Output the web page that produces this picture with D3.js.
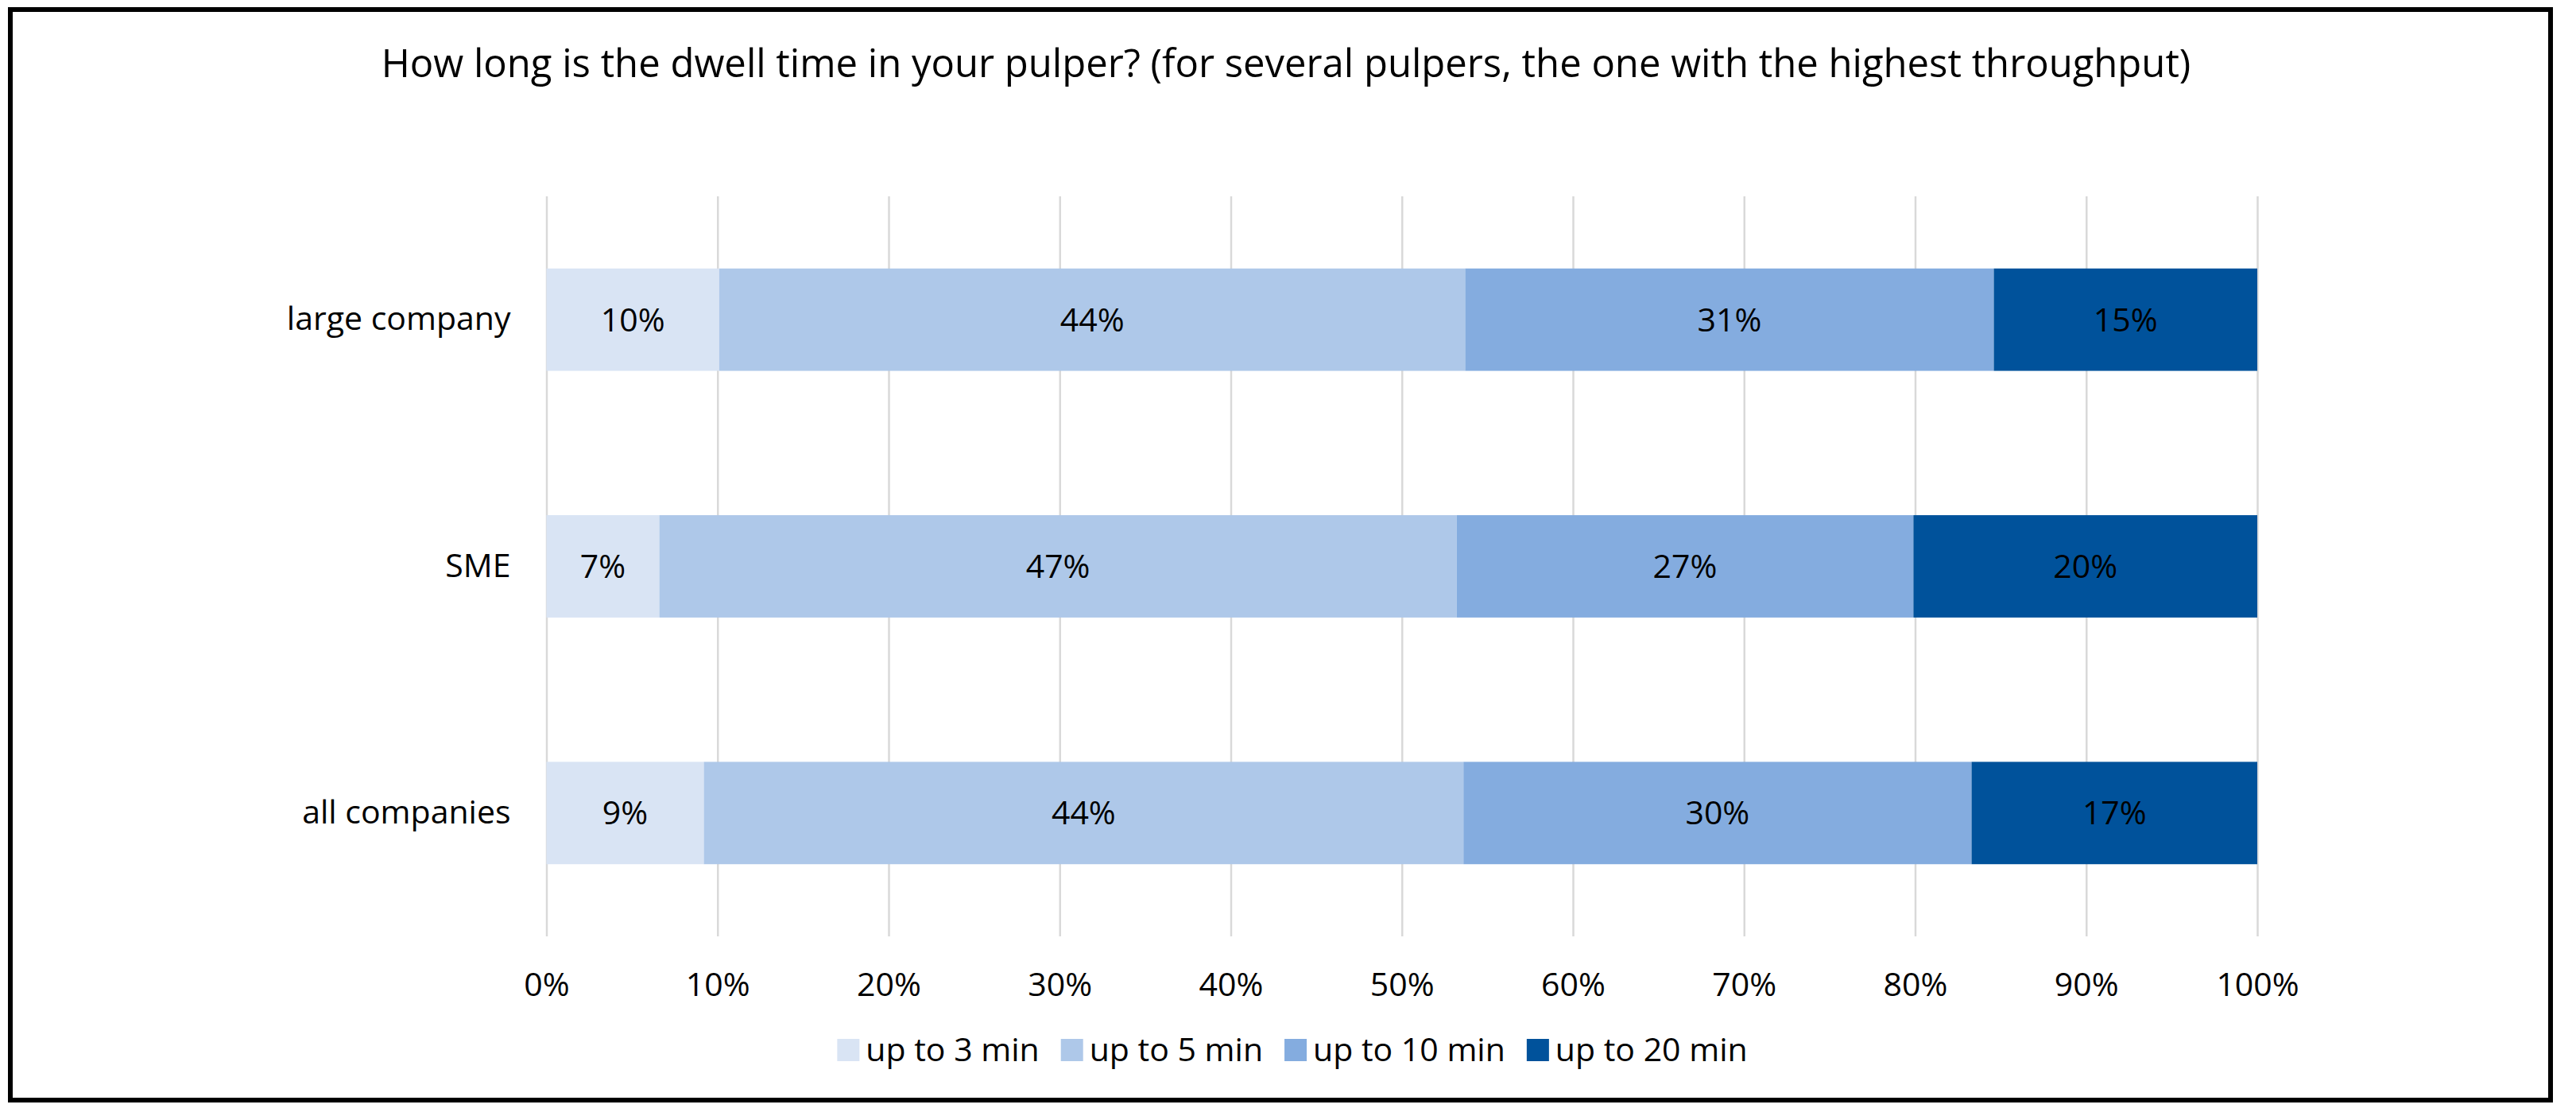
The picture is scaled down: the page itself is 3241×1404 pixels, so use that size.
<!DOCTYPE html>
<html>
<head>
<meta charset="utf-8">
<script src="https://cdn.jsdelivr.net/npm/d3@7"></script>
<style>
  body { margin: 0; background: #fff; }
  text { font-family: "Open Sans", sans-serif; fill: #000; }
</style>
</head>
<body>
<div id="chart"></div>
<script>
// chart values
var categories = ["large company", "SME", "all companies"];
var seriesNames = ["up to 3 min", "up to 5 min", "up to 10 min", "up to 20 min"];
var upTo3 = [10.1, 6.6, 9.2];
var upTo5 = [43.6, 46.6, 44.4];
var upTo10 = [30.9, 26.7, 29.7];
var upTo20 = [15.4, 20.1, 16.7];
var xTicks = [0, 10, 20, 30, 40, 50, 60, 70, 80, 90, 100];
var colors = ["#d9e4f4", "#aec8e9", "#84acdf", "#00529b"];

var svgWidth = 3241;
var svgHeight = 1404;
var labelSize = "41px";

var plot = { left: 687.5, right: 2840, top: 247, bottom: 1178 };

var svg = d3.select("#chart")
  .append("svg")
  .attr("width", svgWidth)
  .attr("height", svgHeight);

// outer frame
svg.append("rect")
  .attr("x", 13)
  .attr("y", 12)
  .attr("width", 3196)
  .attr("height", 1372)
  .attr("fill", "none")
  .attr("stroke", "#000")
  .attr("stroke-width", 6);

// title
svg.append("text")
  .attr("x", 1618)
  .attr("y", 97)
  .attr("text-anchor", "middle")
  .attr("font-size", "49px")
  .text("How long is the dwell time in your pulper? (for several pulpers, the one with the highest throughput)");

// build rows for the stack
var rows = categories.map(function(c, i) {
  return {
    category: c,
    "up to 3 min": upTo3[i],
    "up to 5 min": upTo5[i],
    "up to 10 min": upTo10[i],
    "up to 20 min": upTo20[i]
  };
});

var stacked = d3.stack().keys(seriesNames)(rows);

var xScale = d3.scaleLinear()
  .domain([0, 100])
  .range([plot.left, plot.right]);

var yScale = d3.scaleBand()
  .domain(categories)
  .range([plot.top, plot.bottom])
  .paddingInner(0.585)
  .paddingOuter(0.2925);

var colorScale = d3.scaleOrdinal()
  .domain(seriesNames)
  .range(colors);

// gridlines + x tick labels
var bottomAxis = d3.axisBottom(xScale)
  .tickValues(xTicks)
  .tickFormat(function(d) { return d + "%"; })
  .tickSize(-(plot.bottom - plot.top))
  .tickPadding(61);

var xAxisGroup = svg.append("g")
  .attr("transform", `translate(0, ${plot.bottom})`)
  .call(bottomAxis);

xAxisGroup.select(".domain").remove();
xAxisGroup.selectAll(".tick line")
  .attr("stroke", "#d9d9d9")
  .attr("stroke-width", 2.5);
xAxisGroup.selectAll(".tick text")
  .attr("dy", "0.35em")
  .attr("font-size", labelSize)
  .attr("font-family", "Open Sans, sans-serif")
  .attr("fill", "#000");

// category labels
var leftAxis = d3.axisLeft(yScale)
  .tickSize(0)
  .tickPadding(45);

var yAxisGroup = svg.append("g")
  .attr("transform", `translate(${plot.left}, 0)`)
  .call(leftAxis);

yAxisGroup.select(".domain").remove();
yAxisGroup.selectAll(".tick text")
  .attr("font-size", labelSize)
  .attr("font-family", "Open Sans, sans-serif")
  .attr("fill", "#000");

// bars
var layers = svg.selectAll(".layer")
  .data(stacked)
  .enter()
  .append("g")
  .attr("class", "layer")
  .attr("fill", d => colorScale(d.key));

layers.selectAll("rect")
  .data(d => d)
  .enter()
  .append("rect")
  .attr("x", d => xScale(d[0]))
  .attr("y", d => yScale(d.data.category))
  .attr("width", d => xScale(d[1]) - xScale(d[0]))
  .attr("height", yScale.bandwidth());

// value labels
layers.selectAll("text")
  .data(d => d)
  .enter()
  .append("text")
  .attr("x", d => xScale((d[0] + d[1]) / 2))
  .attr("y", d => yScale(d.data.category) + yScale.bandwidth() / 2)
  .attr("dy", "0.35em")
  .attr("text-anchor", "middle")
  .attr("font-size", labelSize)
  .text(d => Math.round(d[1] - d[0]) + "%");

// legend, laid out from the measured label widths
var legend = svg.append("g");
var cursor = 0;
seriesNames.forEach(function(name, i) {
  var item = legend.append("g").attr("transform", `translate(${cursor}, 0)`);
  item.append("rect")
    .attr("x", 0)
    .attr("y", -14)
    .attr("width", 28)
    .attr("height", 28)
    .attr("fill", colors[i]);
  var t = item.append("text")
    .attr("x", 36)
    .attr("dy", "0.35em")
    .attr("font-size", labelSize)
    .text(name);
  cursor += 36 + t.node().getComputedTextLength() + 27;
});
var legendWidth = cursor - 27;
legend.attr("transform", `translate(${1626 - legendWidth / 2}, 1321)`);
</script>
</body>
</html>
